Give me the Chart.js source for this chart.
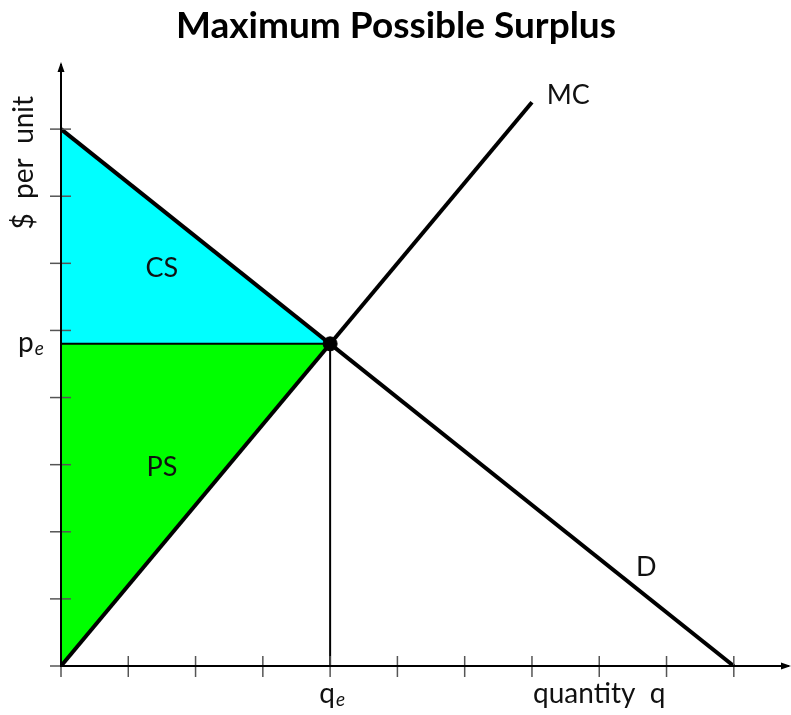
<!DOCTYPE html>
<html>
<head>
<meta charset="utf-8">
<script src="https://cdn.jsdelivr.net/npm/chart.js@4/dist/chart.umd.min.js"></script>
<style>
  html, body { margin: 0; padding: 0; background: #fff; }
  #wrap { width: 791px; height: 715px; position: relative; }
</style>
</head>
<body>
<div id="wrap"><canvas id="c" width="791" height="715"></canvas></div>
<script>
// model values (q, $ per unit)
const demand = [{ x: 0, y: 8 }, { x: 10, y: 0 }]
const mc     = [{ x: 0, y: 0 }, { x: 7, y: 8.4 }]
const qe = 4
const pe = 4.8
const xTicks = [0, 1, 2, 3, 4, 5, 6, 7, 8, 9, 10]
const yTicks = [0, 1, 2, 3, 4, 5, 6, 7, 8]
const areaLabels = [
  { text: 'CS', x: 1.5, y: 5.93 },
  { text: 'PS', x: 1.5, y: 2.96 },
]
const curveLabels = [
  { text: 'MC', x: 7.22, y: 8.5 },
  { text: 'D',  x: 8.7, y: 1.47 },
]
const title = 'Maximum Possible Surplus'

const FONT = 'Lato, "Open Sans", sans-serif'

const econAxes = {
  id: 'econAxes',
  afterDatasetsDraw(chart) {
    const { ctx, scales: { x, y } } = chart
    const x0 = x.getPixelForValue(0), y0 = y.getPixelForValue(0)
    const xEnd = x.right, yEnd = y.top
    ctx.save()
    // tick marks crossing the axes
    ctx.strokeStyle = '#555'
    ctx.lineWidth = 1.5
    xTicks.forEach(v => {
      const px = x.getPixelForValue(v)
      ctx.beginPath(); ctx.moveTo(px, y0 - 10); ctx.lineTo(px, y0 + 11); ctx.stroke()
    })
    yTicks.forEach(v => {
      const py = y.getPixelForValue(v)
      ctx.beginPath(); ctx.moveTo(x0 - 11, py); ctx.lineTo(x0 + 10, py); ctx.stroke()
    })
    // axes
    ctx.strokeStyle = '#000'
    ctx.lineWidth = 2
    ctx.beginPath(); ctx.moveTo(x0, y0 + 1); ctx.lineTo(x0, yEnd + 2); ctx.stroke()
    ctx.beginPath(); ctx.moveTo(x0 - 1, y0); ctx.lineTo(xEnd - 2, y0); ctx.stroke()
    // arrow heads
    ctx.fillStyle = '#000'
    ctx.beginPath(); ctx.moveTo(x0, yEnd); ctx.lineTo(x0 - 3.5, yEnd + 10); ctx.lineTo(x0 + 3.5, yEnd + 10); ctx.closePath(); ctx.fill()
    ctx.beginPath(); ctx.moveTo(xEnd, y0); ctx.lineTo(xEnd - 10, y0 - 3.5); ctx.lineTo(xEnd - 10, y0 + 3.5); ctx.closePath(); ctx.fill()

    // title
    ctx.fillStyle = '#000'
    ctx.textAlign = 'center'
    ctx.textBaseline = 'middle'
    ctx.font = 'bold 37px ' + FONT
    ctx.fillText(title, 396, 26)

    // text
    ctx.fillStyle = '#111'
    ctx.font = '27px ' + FONT
    areaLabels.forEach(l => ctx.fillText(l.text, x.getPixelForValue(l.x), y.getPixelForValue(l.y)))
    ctx.textAlign = 'left'
    ctx.fillText(curveLabels[0].text, x.getPixelForValue(curveLabels[0].x), y.getPixelForValue(curveLabels[0].y))
    ctx.textAlign = 'center'
    ctx.fillText(curveLabels[1].text, x.getPixelForValue(curveLabels[1].x), y.getPixelForValue(curveLabels[1].y))

    // subscripted labels p_e, q_e
    const sub = (main, s, cx, cy) => {
      ctx.font = '28px ' + FONT
      const w1 = ctx.measureText(main).width
      ctx.font = 'italic 19px ' + FONT
      const w2 = ctx.measureText(s).width
      const left = cx - (w1 + w2 + 1) / 2
      ctx.textAlign = 'left'
      ctx.font = '28px ' + FONT
      ctx.fillText(main, left, cy)
      ctx.font = 'italic 19px ' + FONT
      ctx.fillText(s, left + w1 + 1, cy + 6)
    }
    sub('p', 'e', 31, y.getPixelForValue(pe) - 1)
    sub('q', 'e', x.getPixelForValue(qe) + 2, y0 + 28)

    ctx.textAlign = 'center'
    ctx.font = '28px ' + FONT
    ctx.fillText('quantity  q', x.getPixelForValue(8), y0 + 28)

    ctx.save()
    ctx.translate(24, y.getPixelForValue(7.5))
    ctx.rotate(-Math.PI / 2)
    ctx.fillText('$  per  unit', 0, 0)
    ctx.restore()

    ctx.restore()
  }
}

new Chart(document.getElementById('c'), {
  type: 'scatter',
  data: {
    datasets: [
      {
        data: [{ x: qe, y: pe }],
        pointRadius: 7, pointBackgroundColor: '#000', pointBorderColor: '#000',
      },
      {
        data: demand,
        showLine: true, pointRadius: 0, borderWidth: 4, borderColor: '#000',
      },
      {
        data: mc,
        showLine: true, pointRadius: 0, borderWidth: 4, borderColor: '#000',
      },
      {
        data: [{ x: 0, y: pe }, { x: qe, y: pe }],
        showLine: true, pointRadius: 0, borderWidth: 2, borderColor: '#000',
      },
      {
        data: [{ x: qe, y: 0 }, { x: qe, y: pe }],
        showLine: true, pointRadius: 0, borderWidth: 2, borderColor: '#000',
      },
      {
        // consumer surplus: between demand and p_e
        data: [demand[0], { x: qe, y: pe }],
        showLine: true, pointRadius: 0, borderWidth: 0,
        fill: { value: pe }, backgroundColor: '#00ffff',
      },
      {
        // producer surplus: between p_e and MC
        data: [mc[0], { x: qe, y: pe }],
        showLine: true, pointRadius: 0, borderWidth: 0,
        fill: { value: pe }, backgroundColor: '#00ff00',
      },
    ],
  },
  options: {
    responsive: false,
    animation: false,
    layout: { autoPadding: false, padding: { left: 61, right: 0, top: 62, bottom: 49 } },
    plugins: {
      legend: { display: false },
      tooltip: { enabled: false },
      title: { display: false },
    },
    scales: {
      x: { type: 'linear', min: 0, max: 10.85, display: false },
      y: { type: 'linear', min: 0, max: 9, display: false },
    },
  },
  plugins: [econAxes],
})
</script>
</body>
</html>
